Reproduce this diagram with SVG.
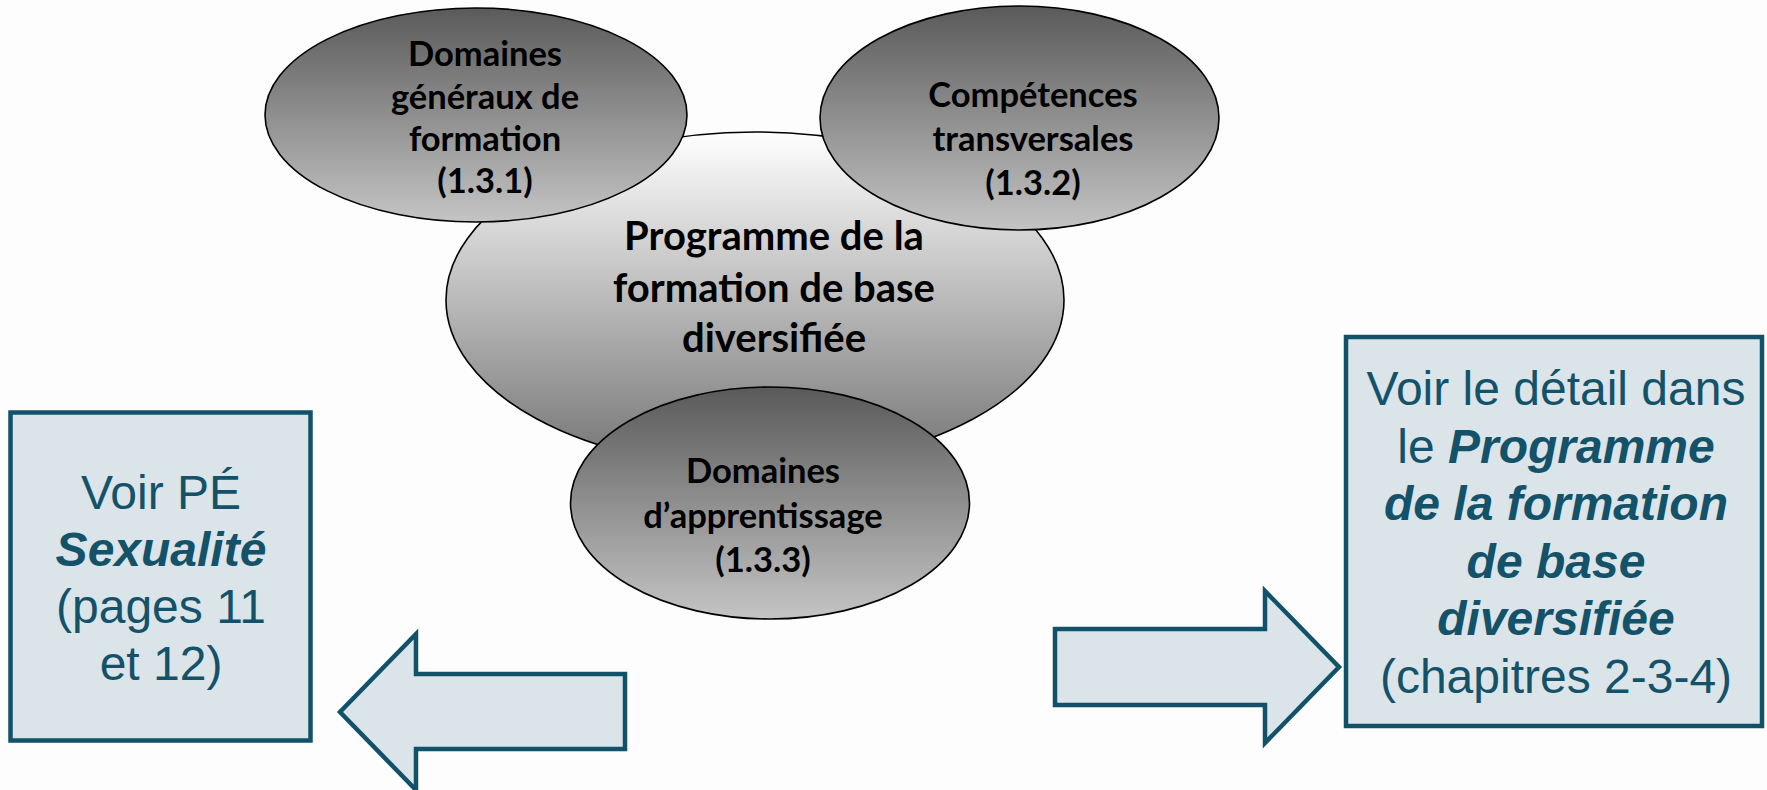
<svg xmlns="http://www.w3.org/2000/svg" width="1767" height="790" viewBox="0 0 1767 790">
  <defs>
    <linearGradient id="gSmall" x1="0" y1="0" x2="0" y2="1">
      <stop offset="0" stop-color="#5a5a5a"/>
      <stop offset="1" stop-color="#c4c4c4"/>
    </linearGradient>
    <linearGradient id="gBig" x1="0" y1="0" x2="0" y2="1">
      <stop offset="0" stop-color="#ffffff"/>
      <stop offset="1" stop-color="#747474"/>
    </linearGradient>
    <style>
      .ell { stroke: #000; stroke-width: 1.6; }
      .et { font-family: Lato, "Open Sans", sans-serif; font-weight: bold; fill: #000; text-anchor: middle; }
      .s { font-size: 34.5px; }
      .b { font-size: 40px; }
      .box { fill: #dbe4e8; stroke: #11526a; stroke-width: 4.5; }
      .bt { font-family: "Liberation Sans", Arial, sans-serif; font-size: 48px; fill: #14526a; text-anchor: middle; }
      .bi { font-weight: bold; font-style: italic; }
    </style>
  </defs>
  <rect width="1767" height="790" fill="#fdfdfd"/>

  <g id="programme">
    <ellipse class="ell" cx="755" cy="300" rx="309" ry="168" fill="url(#gBig)"/>
    <text class="et b"><tspan x="774" y="250">Programme de la</tspan><tspan x="774" y="302">formation de base</tspan><tspan x="774" y="352">diversifiée</tspan></text>
  </g>

  <g id="domaines-generaux">
    <ellipse class="ell" cx="476" cy="115" rx="211" ry="107" fill="url(#gSmall)"/>
    <text class="et s"><tspan x="485" y="66">Domaines</tspan><tspan x="485" y="109">généraux de</tspan><tspan x="485" y="151">formation</tspan><tspan x="485" y="193">(1.3.1)</tspan></text>
  </g>

  <g id="competences">
    <ellipse class="ell" cx="1019.5" cy="118" rx="199.5" ry="112" fill="url(#gSmall)"/>
    <text class="et s"><tspan x="1033" y="107">Compétences</tspan><tspan x="1033" y="151">transversales</tspan><tspan x="1033" y="195">(1.3.2)</tspan></text>
  </g>

  <g id="domaines-apprentissage">
    <ellipse class="ell" cx="770" cy="503" rx="199.5" ry="116" fill="url(#gSmall)"/>
    <text class="et s"><tspan x="763" y="483">Domaines</tspan><tspan x="763" y="528">d’apprentissage</tspan><tspan x="763" y="572">(1.3.3)</tspan></text>
  </g>

  <g id="voir-pe">
    <rect class="box" x="10.5" y="412.5" width="300" height="328"/>
    <text class="bt"><tspan x="161" y="509">Voir PÉ</tspan><tspan x="161" y="566" class="bi">Sexualité</tspan><tspan x="161" y="623">(pages 11</tspan><tspan x="161" y="680">et 12)</tspan></text>
  </g>

  <g id="voir-detail">
    <rect class="box" x="1346" y="337" width="416" height="389"/>
    <text class="bt"><tspan x="1556" y="405">Voir le détail dans</tspan><tspan x="1556" y="463">le <tspan class="bi">Programme</tspan></tspan><tspan x="1556" y="520" class="bi">de la formation</tspan><tspan x="1556" y="578" class="bi">de base</tspan><tspan x="1556" y="635" class="bi">diversifiée</tspan><tspan x="1556" y="693">(chapitres 2-3-4)</tspan></text>
  </g>

  <g id="connectors">
    <path class="box" d="M625 674 L416 674 L416 634 L340 712 L416 790 L416 749 L625 749 Z"/>
    <path class="box" d="M1055 629 L1265 629 L1265 591 L1339 667 L1265 743 L1265 705 L1055 705 Z"/>
  </g>
</svg>
